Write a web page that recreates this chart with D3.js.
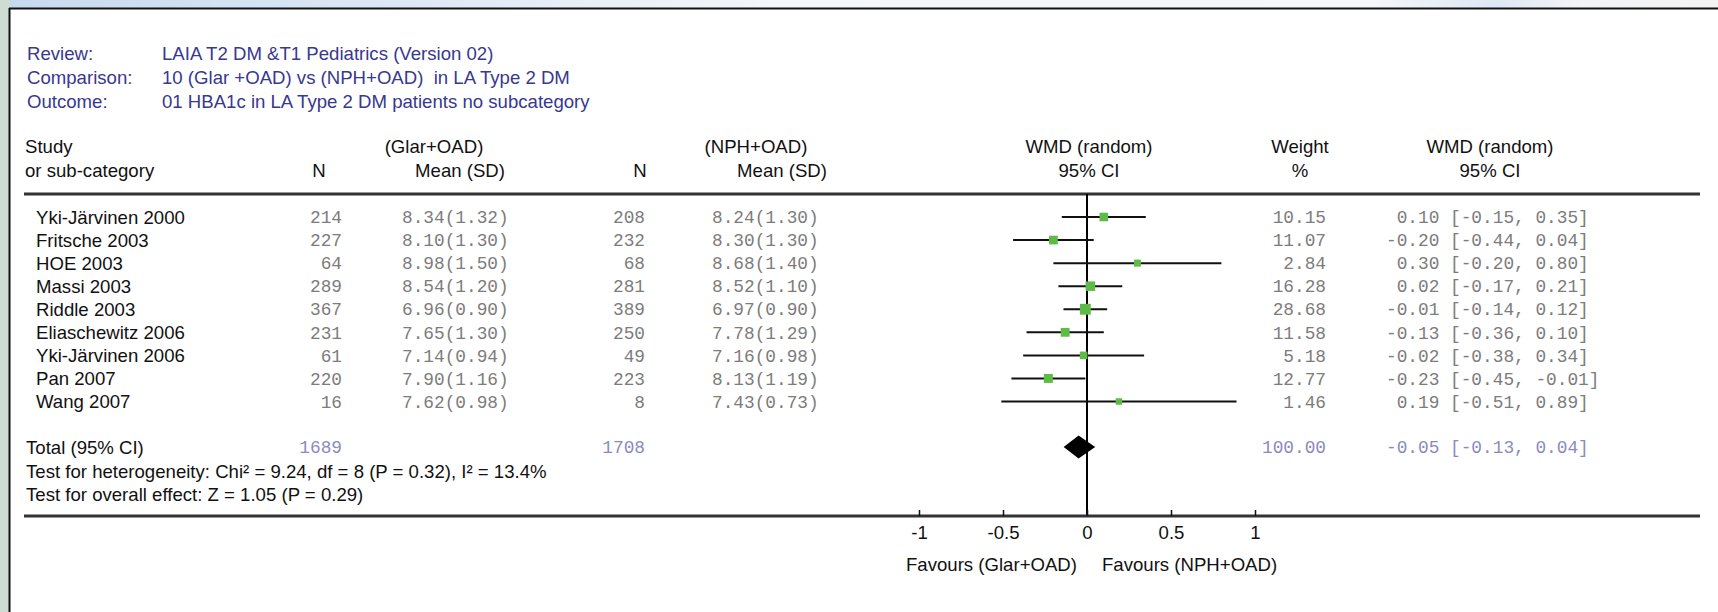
<!DOCTYPE html>
<html>
<head>
<meta charset="utf-8">
<script src="https://cdn.jsdelivr.net/npm/d3@7"></script>
<style>
  body { margin: 0; background: #fff; }
  svg { display: block; }
  .sans { font-family: "Liberation Sans", Arial, sans-serif; font-size: 18.6px; }
  .mono { font-family: "Liberation Mono", monospace; font-size: 17.8px; }
</style>
</head>
<body>
<div id="container"></div>
<script>
// header info
const infoLabels = ["Review:", "Comparison:", "Outcome:"];
const infoValues = [
  "LAIA T2 DM &T1 Pediatrics (Version 02)",
  "10 (Glar +OAD) vs (NPH+OAD)\u00a0 in LA Type 2 DM",
  "01 HBA1c in LA Type 2 DM patients no subcategory"
];

// studies
const studies = ["Yki-Järvinen 2000", "Fritsche 2003", "HOE 2003", "Massi 2003", "Riddle 2003",
  "Eliaschewitz 2006", "Yki-Järvinen 2006", "Pan 2007", "Wang 2007"];
const n1 = [214, 227, 64, 289, 367, 231, 61, 220, 16];
const mean1 = [8.34, 8.10, 8.98, 8.54, 6.96, 7.65, 7.14, 7.90, 7.62];
const sd1 = [1.32, 1.30, 1.50, 1.20, 0.90, 1.30, 0.94, 1.16, 0.98];
const n2 = [208, 232, 68, 281, 389, 250, 49, 223, 8];
const mean2 = [8.24, 8.30, 8.68, 8.52, 6.97, 7.78, 7.16, 8.13, 7.43];
const sd2 = [1.30, 1.30, 1.40, 1.10, 0.90, 1.29, 0.98, 1.19, 0.73];
const weight = [10.15, 11.07, 2.84, 16.28, 28.68, 11.58, 5.18, 12.77, 1.46];
const wmd = [0.10, -0.20, 0.30, 0.02, -0.01, -0.13, -0.02, -0.23, 0.19];
const ciLow = [-0.15, -0.44, -0.20, -0.17, -0.14, -0.36, -0.38, -0.45, -0.51];
const ciHigh = [0.35, 0.04, 0.80, 0.21, 0.12, 0.10, 0.34, -0.01, 0.89];

// pooled
const totalN = [1689, 1708];
const totalWeight = 100;
const totalWmd = [-0.05, -0.13, 0.04]; // estimate, low, high
const heterogeneityText = "Test for heterogeneity: Chi² = 9.24, df = 8 (P = 0.32), I² = 13.4%";
const overallText = "Test for overall effect: Z = 1.05 (P = 0.29)";

const xTicks = [-1, -0.5, 0, 0.5, 1];
const favours = ["Favours (Glar+OAD)", "Favours (NPH+OAD)"];

const W = 1718, H = 612;
const svg = d3.select("#container").append("svg")
  .attr("width", W).attr("height", H);

// background frame
const defs = svg.append("defs");
const grad = defs.append("linearGradient").attr("id", "topgrad");
[[0, "#c7d9ee"], [0.25, "#dfe9f5"], [0.45, "#f3f6fa"], [0.8, "#f4f6f9"], [0.87, "#dde8f4"], [0.92, "#f3f4f6"], [1, "#f3f3f3"]]
  .forEach(s => grad.append("stop").attr("offset", s[0]).attr("stop-color", s[1]));
svg.append("rect").attr("width", W).attr("height", 9).attr("fill", "url(#topgrad)");
svg.append("rect").attr("y", 0).attr("width", 10).attr("height", H).attr("fill", "#cedcd3");
svg.append("rect").attr("x", 10).attr("y", 9).attr("width", W - 10).attr("height", H - 9).attr("fill", "#fff");
svg.append("line").attr("x1", 9).attr("x2", W).attr("y1", 8.5).attr("y2", 8.5)
  .attr("stroke", "#111").attr("stroke-width", 2);
svg.append("line").attr("x1", 9.5).attr("x2", 9.5).attr("y1", 8).attr("y2", H)
  .attr("stroke", "#111").attr("stroke-width", 2);

const blue = "#38388f", gray = "#7c7c7c", lav = "#8a8ac2";

// info block
const infoY = d3.scaleLinear().domain([0, 2]).range([53, 101]);
infoLabels.forEach((t, i) => {
  svg.append("text").attr("class", "sans").attr("x", 27).attr("y", infoY(i)).attr("dy", "0.35em")
    .attr("fill", blue).text(t);
  svg.append("text").attr("class", "sans").attr("x", 162).attr("y", infoY(i)).attr("dy", "0.35em")
    .attr("fill", blue).text(infoValues[i]);
});

// x scale for the plot
const x = d3.scaleLinear().domain([-1, 1]).range([919, 1255]);
const y = d3.scaleLinear().domain([0, studies.length - 1]).range([217, 401.5]);
const size = d3.scaleSqrt().domain([0, 30]).range([5.2, 11]);

// column headers
const hdr1 = 146.5, hdr2 = 170.5;
const header = [
  ["Study", 25, hdr1, "start"], ["or sub-category", 25, hdr2, "start"],
  ["(Glar+OAD)", 434, hdr1, "middle"], ["N", 319, hdr2, "middle"], ["Mean (SD)", 460, hdr2, "middle"],
  ["(NPH+OAD)", 756, hdr1, "middle"], ["N", 640, hdr2, "middle"], ["Mean (SD)", 782, hdr2, "middle"],
  ["WMD (random)", x(0) + 2, hdr1, "middle"], ["95% CI", x(0) + 2, hdr2, "middle"],
  ["Weight", 1300, hdr1, "middle"], ["%", 1300, hdr2, "middle"],
  ["WMD (random)", 1490, hdr1, "middle"], ["95% CI", 1490, hdr2, "middle"]
];
header.forEach(h => {
  svg.append("text").attr("class", "sans").attr("x", h[1]).attr("y", h[2]).attr("dy", "0.35em")
    .attr("text-anchor", h[3]).attr("fill", "#111").text(h[0]);
});

svg.append("line").attr("x1", 24).attr("x2", 1700).attr("y1", 194).attr("y2", 194)
  .attr("stroke", "#333").attr("stroke-width", 3);

// formatting helpers
const pad = (s, n) => "\u00a0".repeat(Math.max(0, n - s.length)) + s;
const f2 = v => v.toFixed(2);
const ciText = (e, lo, hi) => pad(f2(e), 5) + "\u00a0[" + pad(f2(lo), 5) + ",\u00a0" + f2(hi) + "]";

const rows = svg.append("g");
studies.forEach((s, i) => {
  const yy = y(i);
  const g = rows.append("g");
  g.append("text").attr("class", "sans").attr("x", 36).attr("y", yy).attr("dy", "0.35em")
    .attr("fill", "#111").text(s);
  g.append("text").attr("class", "mono").attr("x", 342).attr("y", yy).attr("dy", "0.35em")
    .attr("text-anchor", "end").attr("fill", gray).text(n1[i]);
  g.append("text").attr("class", "mono").attr("x", 402).attr("y", yy).attr("dy", "0.35em")
    .attr("fill", gray).text(f2(mean1[i]) + "(" + f2(sd1[i]) + ")");
  g.append("text").attr("class", "mono").attr("x", 645).attr("y", yy).attr("dy", "0.35em")
    .attr("text-anchor", "end").attr("fill", gray).text(n2[i]);
  g.append("text").attr("class", "mono").attr("x", 712).attr("y", yy).attr("dy", "0.35em")
    .attr("fill", gray).text(f2(mean2[i]) + "(" + f2(sd2[i]) + ")");
  g.append("text").attr("class", "mono").attr("x", 1326).attr("y", yy).attr("dy", "0.35em")
    .attr("text-anchor", "end").attr("fill", gray).text(f2(weight[i]));
  g.append("text").attr("class", "mono").attr("x", 1386).attr("y", yy).attr("dy", "0.35em")
    .attr("fill", gray).text(ciText(wmd[i], ciLow[i], ciHigh[i]));
});

// zero line
svg.append("line").attr("x1", x(0)).attr("x2", x(0)).attr("y1", 194).attr("y2", 516)
  .attr("stroke", "#000").attr("stroke-width", 2);

// CI lines and squares
svg.selectAll(".ci").data(studies).enter().append("line").attr("class", "ci")
  .attr("x1", (d, i) => x(ciLow[i])).attr("x2", (d, i) => x(ciHigh[i]))
  .attr("y1", (d, i) => y(i)).attr("y2", (d, i) => y(i))
  .attr("stroke", "#111").attr("stroke-width", 2);
svg.selectAll(".sq").data(studies).enter().append("rect").attr("class", "sq")
  .attr("x", (d, i) => x(wmd[i]) - size(weight[i]) / 2)
  .attr("y", (d, i) => y(i) - size(weight[i]) / 2)
  .attr("width", (d, i) => size(weight[i])).attr("height", (d, i) => size(weight[i]))
  .attr("fill", "#5dbb46");

// totals
const yTot = 447;
svg.append("text").attr("class", "sans").attr("x", 26).attr("y", yTot).attr("dy", "0.35em")
  .attr("fill", "#111").text("Total (95% CI)");
svg.append("text").attr("class", "mono").attr("x", 342).attr("y", yTot).attr("dy", "0.35em")
  .attr("text-anchor", "end").attr("fill", lav).text(totalN[0]);
svg.append("text").attr("class", "mono").attr("x", 645).attr("y", yTot).attr("dy", "0.35em")
  .attr("text-anchor", "end").attr("fill", lav).text(totalN[1]);
svg.append("text").attr("class", "mono").attr("x", 1326).attr("y", yTot).attr("dy", "0.35em")
  .attr("text-anchor", "end").attr("fill", lav).text(f2(totalWeight));
svg.append("text").attr("class", "mono").attr("x", 1386).attr("y", yTot).attr("dy", "0.35em")
  .attr("fill", lav).text(ciText(totalWmd[0], totalWmd[1], totalWmd[2]));
svg.append("path")
  .attr("d", `M${x(totalWmd[1]) - 1.5},${yTot} L${x(totalWmd[0])},${yTot - 11.5} L${x(totalWmd[2]) + 1.5},${yTot} L${x(totalWmd[0])},${yTot + 11.5}Z`)
  .attr("fill", "#000");

svg.append("text").attr("class", "sans").attr("x", 26).attr("y", 471).attr("dy", "0.35em")
  .attr("fill", "#111").text(heterogeneityText);
svg.append("text").attr("class", "sans").attr("x", 26).attr("y", 494).attr("dy", "0.35em")
  .attr("fill", "#111").text(overallText);

// bottom line + axis
svg.append("line").attr("x1", 24).attr("x2", 1700).attr("y1", 516).attr("y2", 516)
  .attr("stroke", "#333").attr("stroke-width", 3);
const axis = svg.append("g").attr("transform", "translate(0,516)")
  .call(d3.axisBottom(x).tickValues(xTicks).tickSizeInner(-6).tickSizeOuter(0).tickPadding(10)
    .tickFormat(d => String(d)));
axis.select(".domain").remove();
axis.selectAll("line").attr("stroke", "#111").attr("stroke-width", 1.5);
axis.selectAll("text").attr("class", "sans").attr("font-family", null).attr("font-size", null)
  .attr("fill", "#111");

svg.append("text").attr("class", "sans").attr("x", x(0) - 10).attr("y", 564).attr("dy", "0.35em")
  .attr("text-anchor", "end").attr("fill", "#111").text(favours[0]);
svg.append("text").attr("class", "sans").attr("x", x(0) + 15).attr("y", 564).attr("dy", "0.35em")
  .attr("fill", "#111").text(favours[1]);
</script>
</body>
</html>
